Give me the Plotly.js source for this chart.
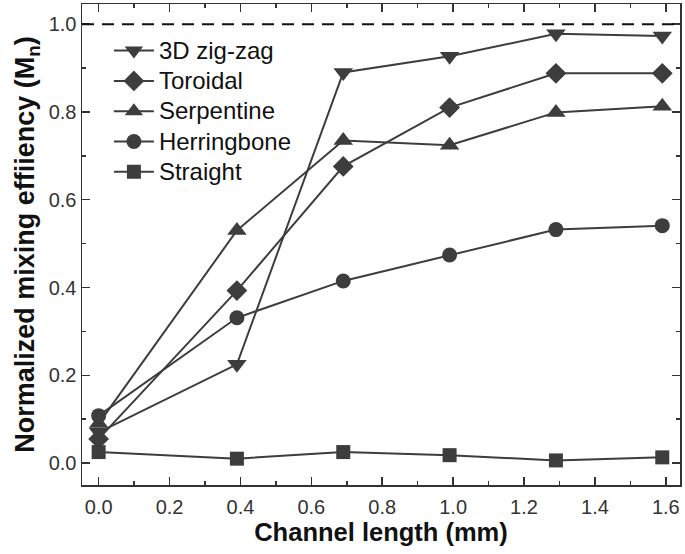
<!DOCTYPE html>
<html>
<head>
<meta charset="utf-8">
<script src="https://cdn.plot.ly/plotly-3.0.1.min.js"></script>
<style>html,body{margin:0;padding:0;background:#fff;}#chart{width:685px;height:554px;}</style>
</head>
<body>
<div id="chart"></div>
<script>
const channelLength = [0, 0.39, 0.69, 0.99, 1.29, 1.59];
const seriesNames = ["3D zig-zag", "Toroidal", "Serpentine", "Herringbone", "Straight"];
const zigzag      = [0.07, 0.225, 0.89, 0.927, 0.978, 0.973];
const toroidal    = [0.055, 0.393, 0.676, 0.81, 0.888, 0.888];
const serpentine  = [0.09, 0.53, 0.735, 0.724, 0.799, 0.813];
const herringbone = [0.108, 0.331, 0.415, 0.474, 0.532, 0.541];
const straight    = [0.025, 0.01, 0.025, 0.018, 0.006, 0.013];
const xTicks = [0, 0.2, 0.4, 0.6, 0.8, 1.0, 1.2, 1.4, 1.6];
const yTicks = [0, 0.2, 0.4, 0.6, 0.8, 1.0];

const col = '#3d3d3d';
const symbols = ['triangle-down', 'diamond', 'triangle-up', 'circle', 'square'];
const sizes = [17, 16, 17, 15, 14];
const values = [zigzag, toroidal, serpentine, herringbone, straight];

const traces = values.map((v, i) => ({
  x: channelLength, y: v, name: '<span style="font-size:24px">' + seriesNames[i] + '</span>',
  type: 'scatter', mode: 'lines+markers',
  line: {color: col, width: 2},
  marker: {symbol: symbols[i], size: sizes[i], color: col}
}));

const fam = 'Liberation Sans, Arial, sans-serif';
const axisCommon = {
  showline: true, linecolor: '#333', linewidth: 1.5, mirror: 'ticks',
  ticks: 'inside', ticklen: 8, tickwidth: 1.5, tickcolor: '#333',
  showgrid: false, zeroline: false,
  tickfont: {family: fam, size: 20, color: '#333'},
  tickformat: '.1f'
};

const layout = {
  width: 685, height: 554,
  margin: {l: 82, r: 5, t: 4, b: 69},
  paper_bgcolor: '#fff', plot_bgcolor: '#fff',
  showlegend: true,
  legend: {x: 0.045, y: 0.945, xanchor: 'left', yanchor: 'top', bgcolor: 'rgba(0,0,0,0)',
    font: {family: fam, size: 21, color: '#111'},
    tracegroupgap: 0, itemwidth: 40},
  xaxis: Object.assign({}, axisCommon, {
    range: [-0.047, 1.64], tickvals: xTicks, ticklabelstandoff: 3,
    minor: {dtick: 0.1, ticks: 'inside', ticklen: 4, tickwidth: 1.5, tickcolor: '#333'},
    title: {text: '<b>Channel length (mm)</b>', standoff: 6,
      font: {family: fam, size: 25.5, color: '#111'}}
  }),
  yaxis: Object.assign({}, axisCommon, {
    range: [-0.05, 1.046], tickvals: yTicks,
    minor: {dtick: 0.1, ticks: 'inside', ticklen: 4, tickwidth: 1.5, tickcolor: '#333'},
    title: {text: '<b>Normalized mixing effiiency (M<sub>n</sub>)</b>', standoff: 6,
      font: {family: fam, size: 27, color: '#111'}}
  }),
  shapes: [{type: 'line', xref: 'paper', yref: 'y', x0: 0, x1: 1, y0: 1, y1: 1,
    line: {color: '#111', width: 2, dash: '12px,8px'}}]
};

Plotly.newPlot('chart', traces, layout, {displayModeBar: false, staticPlot: true});
</script>
</body>
</html>
